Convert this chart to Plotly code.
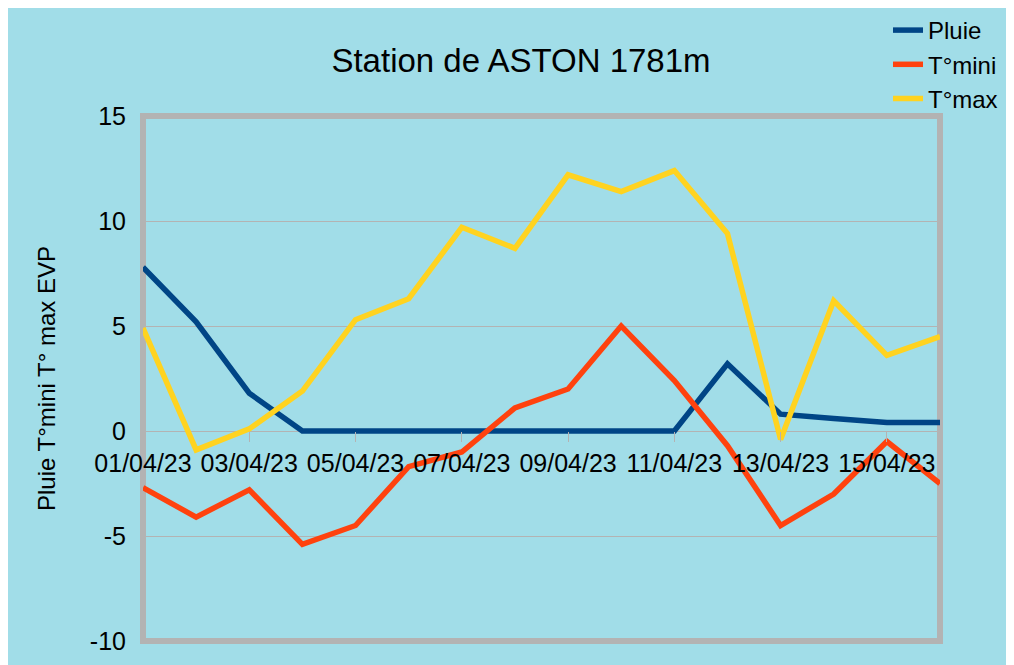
import plotly.graph_objects as go

dates = ["01/04/23", "02/04/23", "03/04/23", "04/04/23", "05/04/23", "06/04/23",
         "07/04/23", "08/04/23", "09/04/23", "10/04/23", "11/04/23", "12/04/23",
         "13/04/23", "14/04/23", "15/04/23", "16/04/23"]
pluie = [7.8, 5.2, 1.8, 0, 0, 0, 0, 0, 0, 0, 0, 3.2, 0.8, 0.6, 0.4, 0.4]
tmini = [-2.7, -4.1, -2.8, -5.4, -4.5, -1.7, -1.0, 1.1, 2.0, 5.0, 2.4, -0.7, -4.5, -3.0, -0.5, -2.5]
tmax = [4.9, -0.9, 0.1, 1.9, 5.3, 6.3, 9.7, 8.7, 12.2, 11.4, 12.4, 9.4, -0.4, 6.2, 3.6, 4.5]
tick_labels = dates[::2]
y_ticks = [-10, -5, 0, 5, 10, 15]
y_tick_text = ["-10", "-5", "0", "5", "10", "15"]

BG = "#a1dde8"
GRID = "#b3b3b3"
FONT = "Liberation Sans, Arial, sans-serif"

W, H = 1006, 657
L, T, pw, ph = 135, 108, 797, 525
R, B = W - L - pw, H - T - ph

fig = go.Figure()
for name, vals, col in [("Pluie", pluie, "#004586"),
                        ("T°mini", tmini, "#ff420e"),
                        ("T°max", tmax, "#ffd320")]:
    fig.add_trace(go.Scatter(x=dates, y=vals, mode="lines", name=name,
                             line=dict(color=col, width=5.5)))

# plot border
fig.add_shape(type="rect", xref="paper", yref="paper", x0=0, x1=1, y0=0, y1=1,
              line=dict(color=GRID, width=6), layer="below")

fig.update_layout(
    width=W, height=H,
    margin=dict(l=L, r=R, t=T, b=B, autoexpand=False),
    paper_bgcolor=BG,
    plot_bgcolor=BG,
    font=dict(family=FONT, color="black"),
    title=dict(text="Station de ASTON 1781m", xref="container", yref="container",
               x=513 / W, xanchor="center", y=1 - 52 / H, yanchor="middle",
               font=dict(size=33, family=FONT, color="black")),
    showlegend=True,
    legend=dict(xref="container", yref="container", x=880 / W, xanchor="left",
                y=1.0, yanchor="top", bgcolor="rgba(0,0,0,0)",
                font=dict(size=24, family=FONT), tracegroupgap=0),
    xaxis=dict(type="category", range=[0, len(dates) - 1],
               tickmode="array", tickvals=tick_labels, ticktext=tick_labels,
               anchor="free", position=10 / 25,
               showgrid=False, zeroline=False, showline=False,
               ticks="outside", ticklen=10, tickcolor=GRID, tickwidth=1,
               tickfont=dict(size=25, family=FONT, color="black"),
               tickangle=0),
    yaxis=dict(range=[-10, 15], tickmode="array", tickvals=y_ticks, ticktext=y_tick_text,
               showgrid=True, gridcolor=GRID, gridwidth=1,
               zeroline=False, showline=False, ticks="",
               ticklabelstandoff=16,
               tickfont=dict(size=25, family=FONT, color="black"),
               title=dict(text="Pluie T°mini T° max EVP", standoff=27,
                          font=dict(size=24, family=FONT, color="black"))),
)

fig.write_html("out.html")
